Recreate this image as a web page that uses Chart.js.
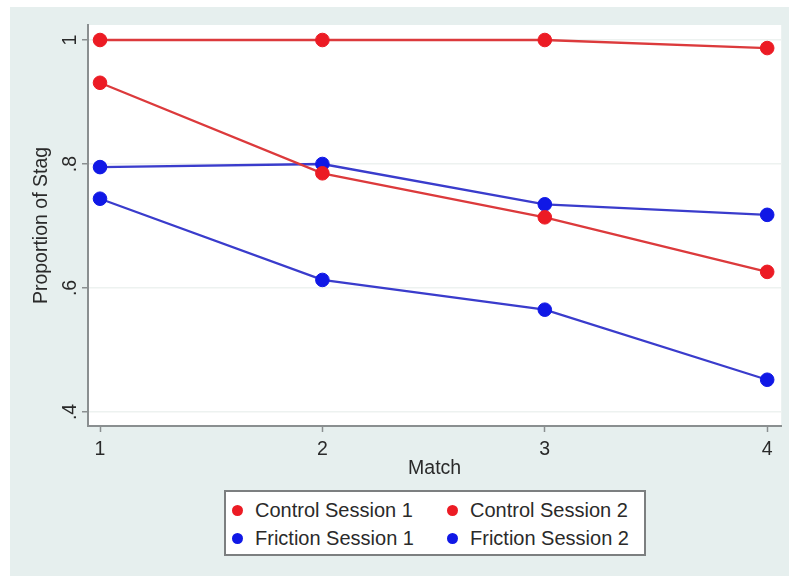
<!DOCTYPE html>
<html>
<head>
<meta charset="utf-8">
<script src="https://cdn.jsdelivr.net/npm/chart.js@4/dist/chart.umd.min.js"></script>
<style>
  html, body { margin: 0; padding: 0; background: #ffffff; }
  #frame {
    position: absolute; left: 10px; top: 7px; width: 779px; height: 569px;
    background: #e6efee;
  }
  #c { position: absolute; left: 0; top: 0; }
  #legend {
    position: absolute; left: 214px; top: 483px; width: 418px; height: 62px;
    background: #ffffff; border: 2px solid #7c7f80;
    font-family: "Liberation Sans", Arial, Helvetica, sans-serif;
    font-size: 20px; color: #2a2a2a;
  }
  .item { position: absolute; height: 24px; line-height: 24px; white-space: nowrap; }
  .dot {
    display: inline-block; width: 11px; height: 11px; border-radius: 50%;
    vertical-align: middle; margin-right: 12px; position: relative; top: -1px;
  }
</style>
</head>
<body>
<div id="frame">
  <canvas id="c" width="779" height="569"></canvas>
  <div id="legend"></div>
</div>
<script>
// Proportion of stag choices per match, by treatment and session
const matches = [1, 2, 3, 4];
const controlSession1 = [1.000, 1.000, 1.000, 0.987];
const controlSession2 = [0.931, 0.785, 0.714, 0.626];
const frictionSession1 = [0.795, 0.800, 0.735, 0.718];
const frictionSession2 = [0.744, 0.613, 0.565, 0.452];
const seriesNames = ['Control Session 1', 'Control Session 2', 'Friction Session 1', 'Friction Session 2'];
const yTicks = [0.4, 0.6, 0.8, 1];
const yTickLabels = ['.4', '.6', '.8', '1'];

const RED = '#ec1b24', RED_LINE = '#dc3a3c';
const BLUE = '#1018e6', BLUE_LINE = '#3a3ccc';
const AXIS = '#8a8f90';
const TEXT = '#2a2a2a';
const FONT = { family: '"Liberation Sans", Arial, Helvetica, sans-serif', size: 19.5 };

function series(label, values, marker, line) {
  return {
    label: label,
    data: matches.map((m, i) => ({ x: m, y: values[i] })),
    borderColor: line,
    backgroundColor: marker,
    borderWidth: 2.3,
    pointRadius: 6.8,
    pointBackgroundColor: marker,
    pointBorderColor: marker,
    pointBorderWidth: 1,
    pointStyle: 'circle',
    tension: 0,
    fill: false
  };
}

// white plotting region
const plotBackground = {
  id: 'plotBackground',
  beforeDraw(chart) {
    const { ctx, chartArea: a } = chart;
    ctx.save();
    ctx.fillStyle = '#ffffff';
    ctx.fillRect(a.left, a.top, a.right - a.left, a.bottom - a.top);
    ctx.restore();
  }
};

const chart = new Chart(document.getElementById('c'), {
  type: 'line',
  data: {
    datasets: [
      series(seriesNames[0], controlSession1, RED, RED_LINE),
      series(seriesNames[1], controlSession2, RED, RED_LINE),
      series(seriesNames[2], frictionSession1, BLUE, BLUE_LINE),
      series(seriesNames[3], frictionSession2, BLUE, BLUE_LINE)
    ]
  },
  options: {
    responsive: false,
    devicePixelRatio: 1,
    animation: false,
    layout: { padding: { top: 18, right: 7, bottom: 90, left: 0 } },
    plugins: { legend: { display: false }, tooltip: { enabled: false } },
    scales: {
      x: {
        type: 'linear',
        min: 0.946, max: 4.063,
        afterBuildTicks(scale) { scale.ticks = matches.map(v => ({ value: v })); },
        afterFit(scale) { scale.height = 60; },
        ticks: { color: TEXT, font: FONT, padding: 6, callback: v => String(v) },
        grid: { drawOnChartArea: false, drawTicks: true, tickLength: 6, tickColor: AXIS, tickWidth: 1.5 },
        border: { display: true, color: AXIS, width: 2 },
        title: { display: true, text: 'Match', color: TEXT, font: FONT, padding: { top: 0, bottom: 6 } }
      },
      y: {
        type: 'linear',
        min: 0.3774, max: 1.0242,
        afterBuildTicks(scale) { scale.ticks = yTicks.map(v => ({ value: v })); },
        afterFit(scale) { scale.width = 78; },
        ticks: {
          color: TEXT, font: FONT, padding: 3,
          minRotation: 90, maxRotation: 90, crossAlign: 'center',
          callback: v => yTickLabels[yTicks.indexOf(v)]
        },
        grid: { color: '#edf2f0', lineWidth: 1.5, drawTicks: true, tickLength: 6, tickColor: AXIS, tickWidth: 1.5 },
        border: { display: true, color: AXIS, width: 2 },
        title: { display: true, text: 'Proportion of Stag', color: TEXT, font: FONT, padding: { top: 20, bottom: 0 } }
      }
    }
  },
  plugins: [plotBackground]
});

// legend box, two columns
const legend = document.getElementById('legend');
chart.data.datasets.forEach((ds, i) => {
  const item = document.createElement('div');
  item.className = 'item';
  item.style.left = (6 + (i % 2) * 215) + 'px';
  item.style.top = (6 + Math.floor(i / 2) * 28) + 'px';
  const dot = document.createElement('span');
  dot.className = 'dot';
  dot.style.background = ds.pointBackgroundColor;
  item.appendChild(dot);
  item.appendChild(document.createTextNode(ds.label));
  legend.appendChild(item);
});
</script>
</body>
</html>
